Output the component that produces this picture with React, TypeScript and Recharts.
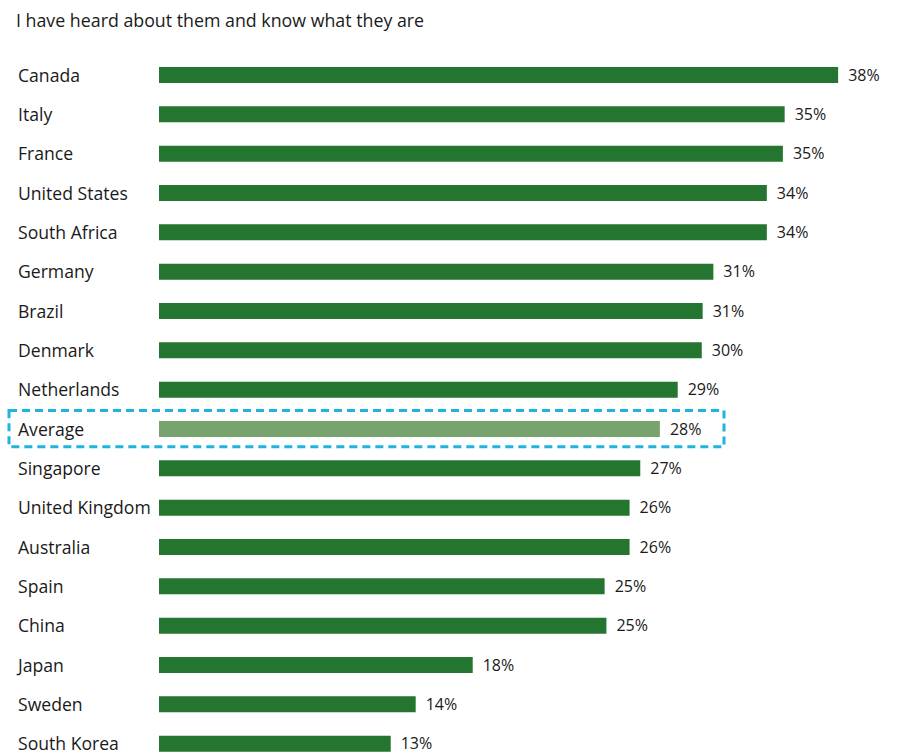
import { BarChart, Bar, XAxis, YAxis, Cell, LabelList, ReferenceArea } from 'recharts';

const title = 'I have heard about them and know what they are';

const countries = [
  'Canada', 'Italy', 'France', 'United States', 'South Africa', 'Germany', 'Brazil', 'Denmark',
  'Netherlands', 'Average', 'Singapore', 'United Kingdom', 'Australia', 'Spain', 'China',
  'Japan', 'Sweden', 'South Korea',
];
const shares = [38.1, 35.1, 35.0, 34.1, 34.1, 31.1, 30.5, 30.45, 29.1, 28.1, 27.0, 26.4, 26.4, 25.0, 25.1, 17.6, 14.4, 13.0];

const data = countries.map((name, i) => ({ name, value: shares[i] }));

const GREEN = '#23752f';
const AVG_GREEN = '#78a36e';
const FONT = '"Open Sans", Lato, sans-serif';

function CountryTick(props: any) {
  const { y, payload } = props;
  return (
    <text x={18} y={y} dy={7} textAnchor="start" fontSize={17.6} fontFamily={FONT} fill="#1a1a1a">
      {payload.value}
    </text>
  );
}

// dashed frame round the average row
function AverageFrame(props: any) {
  const { y, height } = props;
  return (
    <rect x={9} y={y + 1.5} width={715} height={height - 3} fill="none" stroke="#1db4e0" strokeWidth={3} strokeDasharray="8 5" />
  );
}

export default function App() {
  return (
    <div style={{ position: 'absolute', left: 0, top: 0, width: 900, height: 770, background: '#fff' }}>
      <div style={{ position: 'absolute', left: 16, top: 8, fontFamily: FONT, fontSize: 17.8, color: '#1a1a1a' }}>{title}</div>
      <BarChart
        width={900}
        height={770}
        data={data}
        layout="vertical"
        margin={{ top: 55, right: 28, bottom: 7, left: 0 }}
      >
        <XAxis type="number" domain={[0, 40]} hide />
        <YAxis
          type="category"
          dataKey="name"
          width={159}
          axisLine={false}
          tickLine={false}
          tick={<CountryTick />}
          interval={0}
        />
        <ReferenceArea y1="Average" y2="Average" ifOverflow="visible" shape={<AverageFrame />} />
        <Bar dataKey="value" barSize={16} isAnimationActive={false}>
          {data.map((d) => (
            <Cell key={d.name} fill={d.name === 'Average' ? AVG_GREEN : GREEN} />
          ))}
          <LabelList
            dataKey="value"
            position="right"
            offset={10}
            formatter={(v: any) => `${Math.round(Number(v))}%`}
            style={{ fontSize: 16, fontFamily: FONT, fill: '#1a1a1a' }}
          />
        </Bar>
      </BarChart>
    </div>
  );
}
